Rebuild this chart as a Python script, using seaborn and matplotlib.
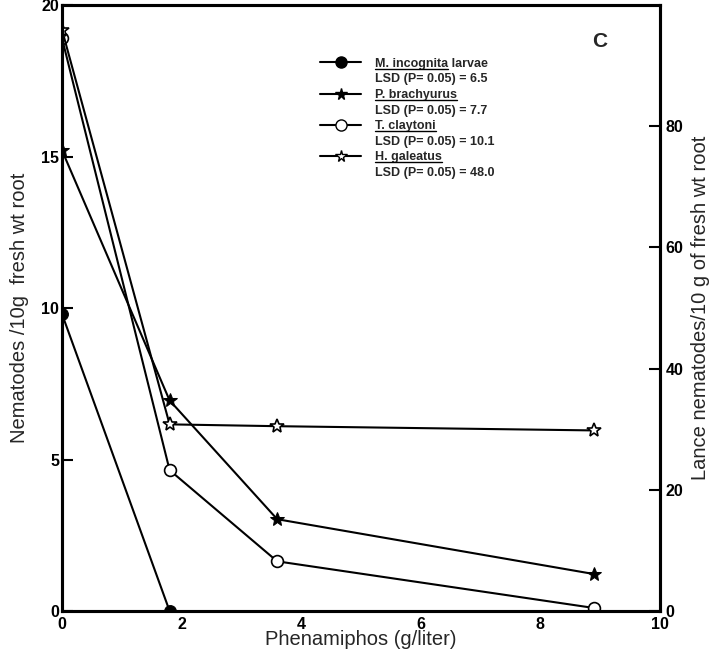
import matplotlib
matplotlib.use("Agg")
import matplotlib.pyplot as plt
import seaborn as sns
from matplotlib.lines import Line2D

sns.set_theme(style="white")
plt.rcParams['font.family'] = ['Liberation Sans', 'DejaVu Sans']

# Data
dose = [0, 1.8, 3.6, 8.9]
m_incognita_x = [0, 1.8]
m_incognita = [9.8, 0.0]
p_brachyurus = [15.2, 6.95, 3.03, 1.22]
t_claytoni = [18.9, 4.65, 1.64, 0.1]
h_galeatus = [95.9, 30.8, 30.5, 29.8]  # right axis

legend_names = ["M. incognita larvae", "P. brachyurus", "T. claytoni", "H. galeatus"]
underlined_parts = ["M. incognita", "P. brachyurus", "T. claytoni", "H. galeatus"]
lsd_labels = ["LSD (P= 0.05) = 6.5", "LSD (P= 0.05) = 7.7",
              "LSD (P= 0.05) = 10.1", "LSD (P= 0.05) = 48.0"]

x_ticks = [0, 2, 4, 6, 8, 10]
left_ticks = [0, 5, 10, 15, 20]
right_ticks = [0, 20, 40, 60, 80]

fig = plt.figure(figsize=(7.28, 6.53), dpi=100)
ax = fig.add_axes([0.0852, 0.0643, 0.821, 0.928])
ax2 = ax.twinx()

lw = 1.5
sns.lineplot(x=m_incognita_x, y=m_incognita, ax=ax, color='black', lw=lw,
             marker='o', markersize=8.5, markerfacecolor='black', markeredgecolor='black')
sns.lineplot(x=dose, y=p_brachyurus, ax=ax, color='black', lw=lw,
             marker='*', markersize=10, markerfacecolor='black', markeredgecolor='black')
sns.lineplot(x=dose, y=t_claytoni, ax=ax, color='black', lw=lw,
             marker='o', markersize=8.5, markerfacecolor='white', markeredgecolor='black',
             markeredgewidth=1.2)
sns.lineplot(x=dose, y=h_galeatus, ax=ax2, color='black', lw=lw,
             marker='*', markersize=10, markerfacecolor='white', markeredgecolor='black',
             markeredgewidth=1.2)

ax.set_xlim(0, 10)
ax.set_ylim(0, 20)
ax2.set_ylim(0, 100)
ax.set_xticks(x_ticks)
ax.set_yticks(left_ticks)
ax2.set_yticks(right_ticks)
ax.set_xticklabels([str(t) for t in x_ticks], fontweight='bold', fontsize=11.5)
ax.set_yticklabels([str(t) for t in left_ticks], fontweight='bold', fontsize=11.5)
ax2.set_yticklabels([str(t) for t in right_ticks], fontweight='bold', fontsize=11.5)
ax.tick_params(axis='x', direction='in', length=8, width=1.5, pad=4, colors='black')
ax.tick_params(axis='y', direction='in', length=8, width=1.5, pad=2, colors='black')
ax2.tick_params(axis='y', direction='in', length=8, width=1.5, pad=4, colors='black')
for a in (ax, ax2):
    for s in a.spines.values():
        s.set_linewidth(2.2)
        s.set_color('black')
    a.grid(False)

ax.set_xlabel("Phenamiphos (g/liter)", fontsize=14.5, labelpad=-1)
ax.set_ylabel("Nematodes /10g  fresh wt root", fontsize=14.5, labelpad=9)
ax2.set_ylabel("Lance nematodes/10 g of fresh wt root", fontsize=14.5, labelpad=6)

ax.text(0.90, 0.939, "C", transform=ax.transAxes, fontsize=15, fontweight='bold',
        ha='center', va='center')

blank = Line2D([], [], color='none')
species_handles = [
    Line2D([], [], color='black', lw=1.5, marker='o', markersize=8, markerfacecolor='black'),
    Line2D([], [], color='black', lw=1.5, marker='*', markersize=8.5, markerfacecolor='black'),
    Line2D([], [], color='black', lw=1.5, marker='o', markersize=8, markerfacecolor='white'),
    Line2D([], [], color='black', lw=1.5, marker='*', markersize=8.5, markerfacecolor='white'),
]
handles, labels = [], []
for h, n, l in zip(species_handles, legend_names, lsd_labels):
    handles += [h, blank]
    labels += [n, l]
leg = ax.legend(handles, labels, loc='upper left', bbox_to_anchor=(0.432, 0.913),
                frameon=False, handlelength=3.3, handletextpad=1.1,
                labelspacing=0.29, borderaxespad=0, borderpad=0,
                prop={'weight': 'bold', 'size': 9})

# underline species names
fig.canvas.draw()
renderer = fig.canvas.get_renderer()
texts = leg.get_texts()
for i, part in enumerate(underlined_parts):
    t = texts[2 * i]
    bb = t.get_window_extent(renderer)
    full = t.get_text()
    t.set_text(part)
    bpart = t.get_window_extent(renderer)
    t.set_text(full)
    y = bb.y0 + 1.0
    fig.add_artist(Line2D([bb.x0, bb.x0 + bpart.width], [y, y], transform=None,
                          color='black', lw=1.0))

fig.savefig("out.png", dpi=100)
